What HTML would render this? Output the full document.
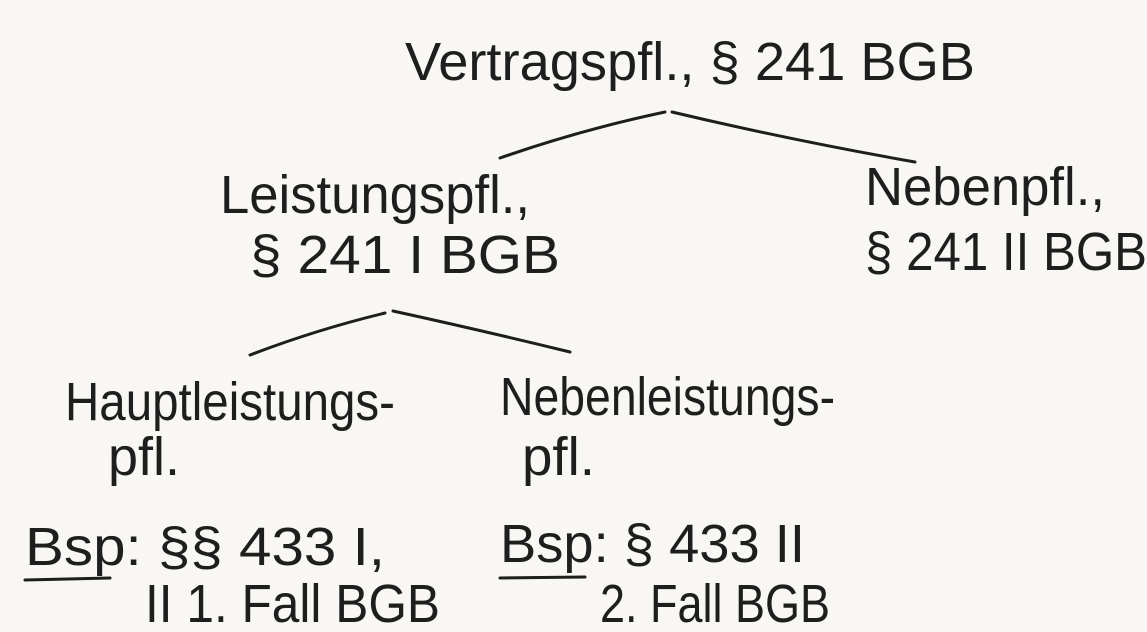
<!DOCTYPE html>
<html><head><meta charset="utf-8"><style>
html,body{margin:0;padding:0;background:#f8f7f3;}
svg{display:block}
text{font-family:"Liberation Sans",sans-serif;fill:#1e1e1e;}
</style></head><body>
<svg width="1147" height="632" viewBox="0 0 1147 632" xmlns="http://www.w3.org/2000/svg">
<rect width="1147" height="632" fill="#f8f7f3"/>
<g font-size="54">
<text x="405" y="80" textLength="570" lengthAdjust="spacingAndGlyphs">Vertragspfl., § 241 BGB</text>
<text x="220" y="213" textLength="310" lengthAdjust="spacingAndGlyphs">Leistungspfl.,</text>
<text x="250" y="273" textLength="310" lengthAdjust="spacingAndGlyphs">§ 241 I BGB</text>
<text x="865" y="205" textLength="240" lengthAdjust="spacingAndGlyphs">Nebenpfl.,</text>
<text x="865" y="270" textLength="282" lengthAdjust="spacingAndGlyphs">§ 241 II BGB</text>
<text x="65" y="420" textLength="330" lengthAdjust="spacingAndGlyphs">Hauptleistungs-</text>
<text x="108" y="475" textLength="72" lengthAdjust="spacingAndGlyphs">pfl.</text>
<text x="500" y="415" textLength="335" lengthAdjust="spacingAndGlyphs">Nebenleistungs-</text>
<text x="522" y="475" textLength="73" lengthAdjust="spacingAndGlyphs">pfl.</text>
<text x="25" y="565" textLength="360" lengthAdjust="spacingAndGlyphs">Bsp: §§ 433 I,</text>
<text x="145" y="622" textLength="295" lengthAdjust="spacingAndGlyphs">II 1. Fall BGB</text>
<text x="500" y="562" textLength="305" lengthAdjust="spacingAndGlyphs">Bsp: § 433 II</text>
<text x="600" y="622" textLength="230" lengthAdjust="spacingAndGlyphs">2. Fall BGB</text>
</g>
<g stroke="#1e1e1e" stroke-width="3" fill="none" stroke-linecap="round">
<path d="M500 158 Q580 130 665 112"/>
<path d="M672 112 Q790 140 915 162"/>
<path d="M250 355 Q315 330 385 313"/>
<path d="M393 311 Q480 330 570 352"/>
<path d="M25 580 L110 578"/>
<path d="M500 578 L585 577"/>
</g>
</svg>
</body></html>
